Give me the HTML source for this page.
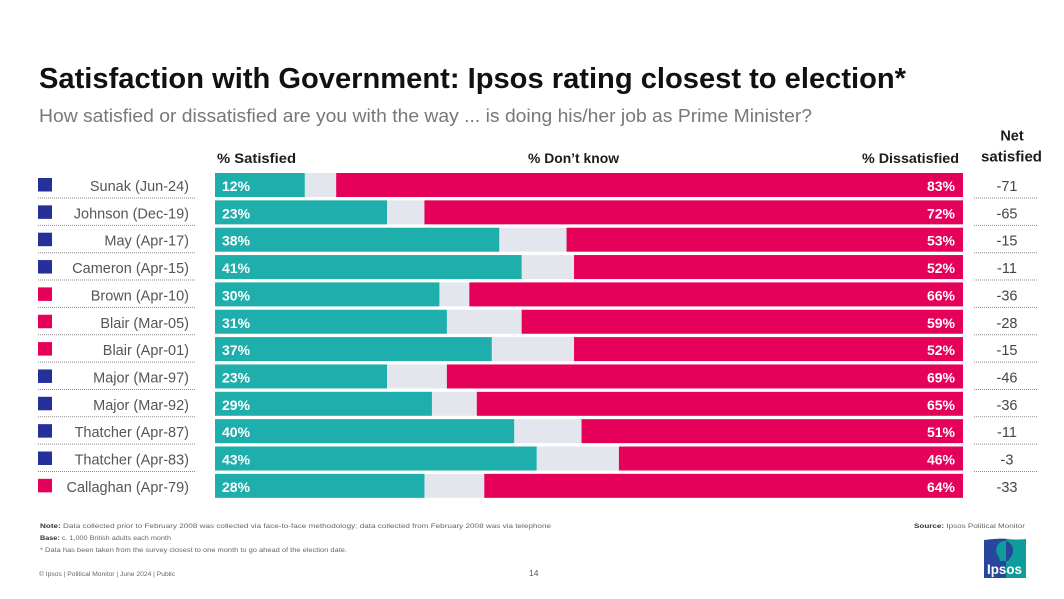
<!DOCTYPE html>
<html lang="en">
<head>
<meta charset="utf-8">
<title>Satisfaction with Government: Ipsos rating closest to election</title>
<style>
html,body{margin:0;padding:0;background:#fff;width:1064px;height:599px;overflow:hidden}
svg{display:block;filter:blur(.35px)}
text{font-family:"Liberation Sans",Arial,sans-serif}
</style>
</head>
<body>
<svg id="chart" width="1064" height="599" viewBox="0 0 1064 599" xmlns="http://www.w3.org/2000/svg">
  <rect width="1064" height="599" fill="#ffffff"/>
  <text x="39" y="88" font-size="29" font-weight="700" fill="#111111" textLength="867" lengthAdjust="spacingAndGlyphs">Satisfaction with Government: Ipsos rating closest to election*</text>
  <text x="39" y="122" font-size="18" fill="#77777c" textLength="773" lengthAdjust="spacingAndGlyphs">How satisfied or dissatisfied are you with the way ... is doing his/her job as Prime Minister?</text>
  <text x="217" y="163" font-size="14" font-weight="700" fill="#1c1c1c" textLength="79" lengthAdjust="spacingAndGlyphs">% Satisfied</text>
  <text x="528" y="163" font-size="14" font-weight="700" fill="#1c1c1c" textLength="91" lengthAdjust="spacingAndGlyphs">% Don’t know</text>
  <text x="862" y="163" font-size="14" font-weight="700" fill="#1c1c1c" textLength="97" lengthAdjust="spacingAndGlyphs">% Dissatisfied</text>
  <text x="1012" y="140.5" font-size="14.5" font-weight="700" fill="#1c1c1c" text-anchor="middle">Net</text>
  <text x="981" y="161.5" font-size="14.5" font-weight="700" fill="#1c1c1c" textLength="61" lengthAdjust="spacingAndGlyphs">satisfied</text>
  <g id="rows"></g>

  <g font-size="6.6" fill="#66666a">
    <text x="40" y="528" textLength="511" lengthAdjust="spacingAndGlyphs"><tspan font-weight="700" fill="#333">Note:</tspan> Data collected prior to February 2008 was collected via face-to-face methodology; data collected from February 2008 was via telephone</text>
    <text x="40" y="540" textLength="131" lengthAdjust="spacingAndGlyphs"><tspan font-weight="700" fill="#333">Base:</tspan> c. 1,000 British adults each month</text>
    <text x="40" y="552" textLength="307" lengthAdjust="spacingAndGlyphs">* Data has been taken from the survey closest to one month to go ahead of the election date.</text>
    <text x="39" y="576" font-size="6" textLength="136" lengthAdjust="spacingAndGlyphs">© Ipsos | Political Monitor | June 2024 | Public</text>
    <text x="914" y="528" textLength="111" lengthAdjust="spacingAndGlyphs"><tspan font-weight="700" fill="#333">Source:</tspan> Ipsos Political Monitor</text>
  </g>
  <text x="529" y="576" font-size="8.5" fill="#555">14</text>

  <g>
    <path d="M984 540 Q1000 538 1008 539 L1008 578 L984 578 Z" fill="#27479d"/>
    <path d="M1006 539 Q1018 540 1026 539 L1026 578 L1006 578 Z" fill="#0f9d9c"/>
    <path d="M1004 541 C996 542 994 552 999 557 L1000 561 L1008 561 L1008 541 Z" fill="#0f9d9c"/>
    <path d="M1006 541 C1014 543 1015 554 1010 558 L1008 561 L1006 561 Z" fill="#27479d"/>
    <text x="987" y="574" font-size="14" font-weight="700" fill="#ffffff" textLength="35" lengthAdjust="spacingAndGlyphs">Ipsos</text>
  </g>
</svg>
<script>
const categories = ["Sunak (Jun-24)","Johnson (Dec-19)","May (Apr-17)","Cameron (Apr-15)","Brown (Apr-10)","Blair (Mar-05)","Blair (Apr-01)","Major (Mar-97)","Major (Mar-92)","Thatcher (Apr-87)","Thatcher (Apr-83)","Callaghan (Apr-79)"];
const parties = ["con","con","con","con","lab","lab","lab","con","con","con","con","lab"];
const satisfied = [12,23,38,41,30,31,37,23,29,40,43,28];
const dissatisfied = [83.8,72,53,52,66,59,52,69,65,51,46,64];
const netSatisfied = [-71,-65,-15,-11,-36,-28,-15,-46,-36,-11,-3,-33];

const NS = "http://www.w3.org/2000/svg";
const rowsGroup = document.getElementById("rows");
const partyColor = { con: "#25309b", lab: "#e5005a" };
const plotLeft = 215, plotRight = 963, rowTop = 173, rowStep = 27.35, barHeight = 24;
function xLen(v) { return v / 100 * (plotRight - plotLeft); }
function yTop(i) { return rowTop + i * rowStep; }

function make(tag, attrs, parent) {
  const el = document.createElementNS(NS, tag);
  for (const k in attrs) el.setAttribute(k, attrs[k]);
  parent.appendChild(el);
  return el;
}

categories.forEach(function (cat, i) {
  const y = yTop(i);
  const sEnd = plotLeft + xLen(satisfied[i]);
  const dStart = plotRight - xLen(dissatisfied[i]);

  const swatch = make("rect", { x: 38, y: y + 5, width: 14, height: 13.5, fill: partyColor[parties[i]] }, rowsGroup);
  
  

  const label = make("text", { x: 189, y: y + 18, "font-size": 14.5, fill: "#55555a", "text-anchor": "end" }, rowsGroup);
  label.textContent = cat;
  
  

  const dk = make("rect", { x: sEnd, y: y, width: dStart - sEnd, height: barHeight, fill: "#e3e6ec" }, rowsGroup);
  
  

  const sBar = make("rect", { x: plotLeft, y: y, width: sEnd - plotLeft, height: barHeight, fill: "#1eaeac" }, rowsGroup);
  
  

  const dBar = make("rect", { x: dStart, y: y, width: plotRight - dStart, height: barHeight, fill: "#e5005a" }, rowsGroup);
  
  

  const sVal = make("text", { x: plotLeft + 7, y: y + 18, "font-size": 14, "font-weight": 700, fill: "#ffffff" }, rowsGroup);
  sVal.textContent = satisfied[i] + "%";
  
  

  const dVal = make("text", { x: plotRight - 8, y: y + 18, "font-size": 14, "font-weight": 700, fill: "#ffffff", "text-anchor": "end" }, rowsGroup);
  dVal.textContent = Math.floor(dissatisfied[i]) + "%";
  
  

  const net = make("text", { x: 1007, y: y + 18, "font-size": 14.5, fill: "#44444a", "text-anchor": "middle" }, rowsGroup);
  net.textContent = String(netSatisfied[i]);
  
  

  if (i < categories.length - 1) {
    const lineY = y + 25;
    const rule = make("line", { x1: 38, x2: 195, y1: lineY, y2: lineY, stroke: "#8a8a8f", "stroke-width": 1, "stroke-dasharray": "1 1" }, rowsGroup);
    
    

    const netRule = make("line", { x1: 974, x2: 1038, y1: lineY, y2: lineY, stroke: "#8a8a8f", "stroke-width": 1, "stroke-dasharray": "1 1" }, rowsGroup);
    
    
  }
});
</script>
</body>
</html>
